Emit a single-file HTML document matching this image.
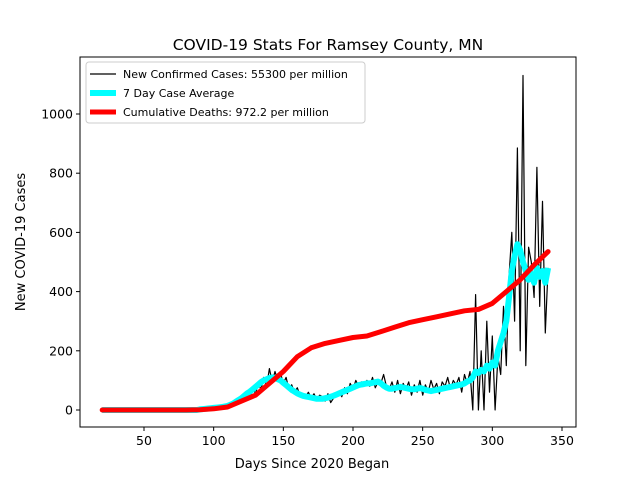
<!DOCTYPE html>
<html><head><meta charset="utf-8"><style>
body{margin:0;background:#fff}
svg{font-family:"DejaVu Sans","Liberation Sans",sans-serif}
</style></head><body>
<svg id="chart" width="640" height="480" viewBox="0 0 640 480">
<rect width="640" height="480" fill="#fff"/>
<text x="328" y="50" font-size="15.5" text-anchor="middle">COVID-19 Stats For Ramsey County, MN</text>
<text x="312" y="468" font-size="13" text-anchor="middle">Days Since 2020 Began</text>
<text transform="translate(25,242) rotate(-90)" font-size="13" text-anchor="middle">New COVID-19 Cases</text>
<g id="plot"></g>
</svg>
<script>
const dailyStart = 20, dailyStep = 2;
const dailyCases = [0,0,0,0,0,0,0,0,0,0,0,0,0,0,0,0,0,0,0,0,0,0,0,0,0,0,0,0,0,0,0,0,0,0,0,
2,5,3,8,4,10,6,12,8,15,
10,20,15,30,25,45,35,60,40,75,
55,90,70,110,80,140,95,130,100,125,
90,110,70,85,60,75,50,55,45,60,
40,55,35,50,45,30,55,25,40,50,
60,45,75,55,90,70,100,80,95,85,
100,80,110,75,95,90,120,80,70,95,
60,100,55,90,70,95,50,85,60,100,
50,85,60,100,70,90,55,95,80,110,
70,100,85,110,60,120,90,130,0,390,
0,200,0,300,60,250,0,180,120,350,
150,450,600,300,885,200,1130,150,550,500,
380,820,350,705,260,480];
const avgCases = [0,0,0,0,0,0,0,0,0,0,0,0,0,0,0,0,0,0,0,0,0,0,0,0,0,0,0,0,0,0,0,0,0,0,0,
2,3,4,5,6,7,8,9,10,12,
14,18,22,28,34,40,48,56,62,70,
78,86,94,100,104,108,110,108,104,100,
92,84,76,68,62,56,52,48,46,44,
42,40,38,38,38,40,42,45,48,52,
56,60,64,68,72,76,80,84,86,88,
90,90,92,94,96,90,82,76,72,72,
74,76,78,76,74,72,70,70,72,74,
72,68,66,64,66,68,70,72,74,76,
78,80,82,84,86,90,96,100,110,130,
125,135,130,150,140,160,150,200,230,260,
300,380,470,520,560,540,500,470,440,460,
430,480,450,470,430,480];
const deathDays = [20,30,40,50,60,70,80,90,100,110,120,130,140,150,160,170,180,190,200,210,220,230,240,250,260,270,280,290,300,310,320,330,340];
const deaths = [0,0,0,0,0,0,0,1,4,10,30,50,90,130,180,210,225,235,245,250,265,280,295,305,315,325,335,340,360,400,440,490,535];
const xTicks = [50,100,150,200,250,300,350];
const yTicks = [0,200,400,600,800,1000];
const legendLabels = ["New Confirmed Cases: 55300 per million","7 Day Case Average","Cumulative Deaths: 972.2 per million"];

const NS="http://www.w3.org/2000/svg";
const L=80,R=576,T=57,B=427;
const xS=d=>144+(d-50)*1.3933;
const yS=v=>410-v*0.296;
const g=document.getElementById('plot');
function mk(t,a){const e=document.createElementNS(NS,t);for(const k in a)e.setAttribute(k,a[k]);g.appendChild(e);return e;}
function pts(xs,ys){return ys.map((v,i)=>xS(xs[i]).toFixed(1)+','+yS(v).toFixed(1)).join(' ');}
const dDays=dailyCases.map((_,i)=>dailyStart+i*dailyStep);

let l1=mk('polyline',{points:pts(dDays,dailyCases),fill:'none',stroke:'#000','stroke-width':1.2,'stroke-linejoin':'round'});


let l2=mk('polyline',{points:pts(dDays,avgCases),fill:'none',stroke:'#00ffff','stroke-width':6,'stroke-linejoin':'round'});


let l3=mk('polyline',{points:pts(deathDays,deaths),fill:'none',stroke:'#ff0000','stroke-width':5,'stroke-linejoin':'round','stroke-linecap':'round'});



let fr=mk('rect',{x:L,y:T,width:R-L,height:B-T,fill:'none',stroke:'#000','stroke-width':1});


xTicks.forEach(t=>{const x=xS(t);
 mk('line',{x1:x,x2:x,y1:B,y2:B+4,stroke:'#000'});
 const tx=mk('text',{x:x,y:B+18,'font-size':12.5,'text-anchor':'middle'});tx.textContent=t;
 
 });
yTicks.forEach(t=>{const y=yS(t);
 mk('line',{x1:L-4,x2:L,y1:y,y2:y,stroke:'#000'});
 const tx=mk('text',{x:L-7,y:y+4.5,'font-size':12.5,'text-anchor':'end'});tx.textContent=t;
 
 });

let lg=mk('rect',{x:86,y:62,width:279,height:61,fill:'#fff',stroke:'#ccc',rx:3});


const lcol=['#000','#00ffff','#ff0000'],lw=[1.2,6,5];
legendLabels.forEach((s,i)=>{const y=74+i*19;
 mk('line',{x1:90,x2:116,y1:y,y2:y,stroke:lcol[i],'stroke-width':lw[i]});
 const tx=mk('text',{x:123,y:y+4,'font-size':11});tx.textContent=s;
 
 });
</script>
</body></html>
